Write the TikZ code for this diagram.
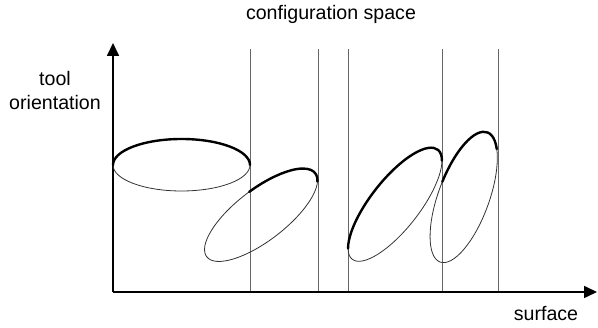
\documentclass[tikz,border=0pt]{standalone}
\usepackage{fontspec}
\setmainfont{Liberation Sans}
\usetikzlibrary{arrows.meta}
\begin{document}
\begin{tikzpicture}[x=1pt,y=1pt,
  axis/.style={line width=1.7pt, -{Triangle[length=13pt,width=12pt]}},
  guide/.style={line width=0.9pt, draw=black!60},
  thinarc/.style={line width=0.8pt, draw=black!80},
  thickarc/.style={line width=2.4pt, line cap=round},
  lbl/.style={font=\fontsize{19.6}{23}\selectfont, inner sep=0pt}]
\useasboundingbox (0,0) rectangle (598,328);
% vertical guide lines
\foreach \x [count=\i] in {250,318.5,348,442.5,498} {
  \coordinate (b\i) at (\x,36);
  \coordinate (t\i) at (\x,279);
  \draw[guide] (b\i) -- (t\i);
}
% axes
\coordinate (O) at (113,36);
\coordinate (Ytip) at (113,285);
\coordinate (Xtip) at (597,36);
\draw[axis] (O) -- (Ytip);
\draw[axis] (O) -- (Xtip);
% ellipse 1
\begin{scope}[shift={(181.5,163)}]
  \draw[thinarc] (0,0) ellipse [x radius=68.5, y radius=26];
  \draw[thickarc] (0:68.5 and 26) arc[start angle=0, end angle=180, x radius=68.5, y radius=26];
\end{scope}
% ellipse 2
\begin{scope}[shift={(261,113)}, rotate=37.6]
  \draw[thinarc] (0,0) ellipse [x radius=68.5, y radius=25.6];
  \draw[thickarc] (-18:68.5 and 25.6) arc[start angle=-18, end angle=86, x radius=68.5, y radius=25.6];
\end{scope}
% ellipse 3
\begin{scope}[shift={(395,123.5)}, rotate=52]
  \draw[thinarc] (0,0) ellipse [x radius=69.5, y radius=24.5];
  \draw[thickarc] (-24:69.5 and 24.5) arc[start angle=-24, end angle=156, x radius=69.5, y radius=24.5];
\end{scope}
% ellipse 4
\begin{scope}[shift={(463.7,130.8)}, rotate=70]
  \draw[thinarc] (0,0) ellipse [x radius=69, y radius=25.5];
  \draw[thickarc] (-35:69 and 25.5) arc[start angle=-35, end angle=84, x radius=69, y radius=25.5];
\end{scope}
% labels
\node[lbl, anchor=base] (title) at (331,308) {configuration space};
\node[lbl, anchor=base] (tool) at (55,242) {tool};
\node[lbl, anchor=base] (orient) at (55,218) {orientation};
\node[lbl, anchor=base] (surf) at (546,7) {surface};
\end{tikzpicture}
\end{document}
